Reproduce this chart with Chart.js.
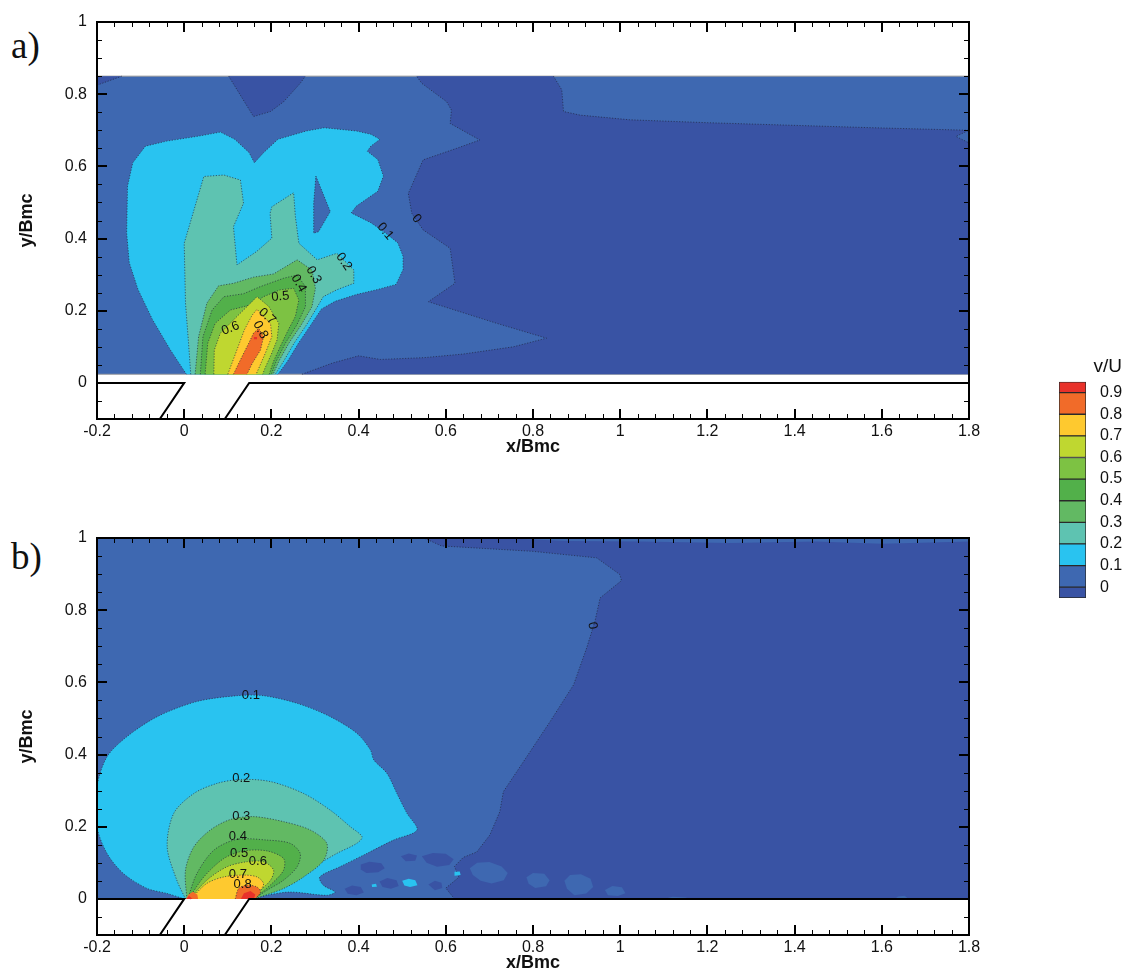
<!DOCTYPE html>
<html>
<head>
<meta charset="utf-8">
<title>v/U contours</title>
<script src="https://cdn.jsdelivr.net/npm/chart.js@4.4.1/dist/chart.umd.min.js"></script>
<style>
  html, body { margin: 0; padding: 0; background: #fff; }
  body { position: relative; width: 1128px; height: 969px; overflow: hidden; }
  canvas { position: absolute; }
  .tag { position: absolute; left: 11px; font: 37px/37px "Liberation Serif", "Times New Roman", serif; color: #111; }
</style>
</head>
<body>
<div class="tag" style="top:27px">a)</div>
<div class="tag" style="top:538px">b)</div>
<canvas id="panelA" width="1000" height="470" style="left:0;top:0"></canvas>
<canvas id="panelB" width="1000" height="470" style="left:0;top:516px"></canvas>
<canvas id="colorbar" width="88" height="257" style="left:1040px;top:341px"></canvas>
<script>
// ---------- contour levels and band colours ----------
const levels = [0, 0.1, 0.2, 0.3, 0.4, 0.5, 0.6, 0.7, 0.8, 0.9];
const levelColors = ['#3e68b1', '#29c3f0', '#5ec3b1', '#62b963', '#52b04a',
                     '#7dc243', '#bfd730', '#fec92f', '#f16b29', '#e8312a'];
const negColor = '#3953a4';          // v/U below 0

// ---------- axes ----------
const xTickValues = [-0.2, 0, 0.2, 0.4, 0.6, 0.8, 1, 1.2, 1.4, 1.6, 1.8];
const xTickLabels = ['-0.2', '0', '0.2', '0.4', '0.6', '0.8', '1', '1.2', '1.4', '1.6', '1.8'];
const yTickValues = [0, 0.2, 0.4, 0.6, 0.8, 1];
const yTickLabels = ['0', '0.2', '0.4', '0.6', '0.8', '1'];

// ---------- channel walls (slot in the lower wall) ----------
const wallLeft  = [[-0.2, 0], [0, 0], [-0.056, -0.1]];
const wallRight = [[1.8, 0], [0.149, 0], [0.093, -0.1]];

// ---------- panel a: measured field, contour regions (x/Bmc, y/Bmc) ----------
const aDomain = [[-0.2, 0.024], [1.8, 0.024], [1.8, 0.85], [-0.2, 0.85]];
const aNegCorner = [[-0.2, 0.85], [-0.143, 0.85], [-0.2, 0.825]];
const aNegTop = [[0.102, 0.85], [0.130, 0.795], [0.159, 0.738], [0.198, 0.752], [0.228, 0.779],
                 [0.266, 0.830], [0.278, 0.85]];
const aNegMain = [[0.533, 0.85], [0.847, 0.85], [0.866, 0.812], [0.870, 0.752], [0.908, 0.742],
                  [1.022, 0.729], [1.2, 0.721], [1.58, 0.707], [1.8, 0.70], [1.77, 0.683], [1.8, 0.665],
                  [1.8, 0.024], [0.27, 0.024], [0.34, 0.055], [0.40, 0.075], [0.45, 0.065], [0.55, 0.07],
                  [0.64, 0.08], [0.755, 0.10], [0.831, 0.124], [0.717, 0.165], [0.560, 0.225],
                  [0.621, 0.276], [0.610, 0.373], [0.548, 0.424], [0.522, 0.470], [0.514, 0.525],
                  [0.548, 0.618], [0.625, 0.650], [0.678, 0.673], [0.610, 0.719], [0.613, 0.756],
                  [0.602, 0.779], [0.545, 0.830]];
const aCyan = [[0.005, 0.024], [-0.032, 0.092], [-0.073, 0.176], [-0.106, 0.259], [-0.126, 0.333],
               [-0.132, 0.416], [-0.130, 0.545], [-0.118, 0.610], [-0.089, 0.656], [-0.040, 0.670],
               [0.034, 0.684], [0.083, 0.695], [0.116, 0.675], [0.149, 0.638], [0.161, 0.610],
               [0.182, 0.638], [0.215, 0.675], [0.280, 0.698], [0.321, 0.707], [0.395, 0.698],
               [0.428, 0.689], [0.449, 0.675], [0.428, 0.656], [0.420, 0.642], [0.444, 0.619],
               [0.457, 0.573], [0.444, 0.531], [0.395, 0.490], [0.383, 0.471], [0.428, 0.444],
               [0.461, 0.416], [0.490, 0.388], [0.502, 0.351], [0.502, 0.314], [0.486, 0.273],
               [0.444, 0.259], [0.395, 0.245], [0.346, 0.226], [0.315, 0.205], [0.290, 0.160],
               [0.262, 0.110], [0.237, 0.060], [0.215, 0.024]];
const aPocket = [[0.302, 0.573], [0.335, 0.475], [0.308, 0.419], [0.297, 0.415], [0.297, 0.498]];
const aTeal = [[0.015, 0.024], [0.010, 0.110], [0.003, 0.221], [0.000, 0.387], [0.018, 0.461],
               [0.045, 0.572], [0.091, 0.576], [0.129, 0.562], [0.136, 0.498], [0.113, 0.433],
               [0.121, 0.327], [0.166, 0.364], [0.201, 0.401], [0.197, 0.470], [0.201, 0.488],
               [0.251, 0.527], [0.255, 0.461], [0.263, 0.387], [0.305, 0.341], [0.350, 0.359],
               [0.389, 0.313], [0.389, 0.276], [0.350, 0.258], [0.319, 0.239], [0.305, 0.210],
               [0.280, 0.160], [0.252, 0.110], [0.228, 0.060], [0.209, 0.024]];
const aL3 = [[0.025, 0.024], [0.033, 0.128], [0.052, 0.221], [0.079, 0.269], [0.113, 0.276],
             [0.159, 0.293], [0.205, 0.302], [0.259, 0.341], [0.293, 0.313], [0.301, 0.262],
             [0.293, 0.211], [0.268, 0.160], [0.240, 0.110], [0.217, 0.060], [0.204, 0.024]];
const aL4 = [[0.037, 0.024], [0.043, 0.128], [0.064, 0.202], [0.091, 0.239], [0.136, 0.247],
             [0.175, 0.267], [0.228, 0.290], [0.259, 0.299], [0.278, 0.267], [0.278, 0.211],
             [0.258, 0.160], [0.232, 0.110], [0.211, 0.060], [0.200, 0.024]];
const aL5 = [[0.048, 0.024], [0.054, 0.110], [0.071, 0.165], [0.106, 0.202], [0.152, 0.216],
             [0.182, 0.239], [0.220, 0.258], [0.251, 0.262], [0.263, 0.230], [0.255, 0.184],
             [0.240, 0.150], [0.222, 0.105], [0.205, 0.060], [0.195, 0.024]];
const aL6 = [[0.068, 0.024], [0.069, 0.091], [0.083, 0.138], [0.121, 0.184], [0.152, 0.221],
             [0.167, 0.239], [0.194, 0.212], [0.217, 0.165], [0.213, 0.119], [0.200, 0.080],
             [0.185, 0.040], [0.180, 0.024]];
const aL7 = [[0.100, 0.024], [0.118, 0.082], [0.138, 0.147], [0.156, 0.188], [0.167, 0.204],
             [0.182, 0.184], [0.198, 0.165], [0.201, 0.128], [0.186, 0.082], [0.165, 0.024]];
const aL8 = [[0.113, 0.024], [0.129, 0.064], [0.148, 0.110], [0.159, 0.138], [0.171, 0.151],
             [0.182, 0.128], [0.175, 0.091], [0.156, 0.054], [0.144, 0.024]];
const aL9 = [[0.160, 0.121], [0.167, 0.121], [0.167, 0.127], [0.160, 0.127]];
// contour labels: [level, x, y, rotation in degrees]
const aLabels = [[0, 0.533, 0.455, 50], [0.1, 0.461, 0.420, 50], [0.2, 0.366, 0.336, 55],
                 [0.3, 0.297, 0.299, 60], [0.4, 0.2625, 0.276, 60], [0.5, 0.2205, 0.239, -5],
                 [0.6, 0.106, 0.151, -22], [0.7, 0.190, 0.184, 42], [0.8, 0.175, 0.147, 62]];

// ---------- panel b: computed field, contour regions ----------
const bDomain = [[-0.2, 0], [1.8, 0], [1.8, 1], [-0.2, 1]];
const bNegMain = [[0.55, 1.0], [1.8, 1.0], [1.8, 0.0], [0.62, 0.0], [0.60, 0.03], [0.63, 0.06],
                  [0.62, 0.09], [0.64, 0.115], [0.671, 0.130], [0.701, 0.177], [0.724, 0.242],
                  [0.732, 0.297], [0.778, 0.380], [0.839, 0.491], [0.893, 0.593], [0.923, 0.695],
                  [0.942, 0.769], [0.954, 0.834], [1.003, 0.882], [0.999, 0.899], [0.946, 0.945],
                  [0.80, 0.963], [0.59, 0.978]];
const bNegSpots = [
  [[0.405, 0.095], [0.425, 0.103], [0.452, 0.099], [0.460, 0.085], [0.445, 0.074], [0.418, 0.072], [0.404, 0.082]],
  [[0.545, 0.118], [0.570, 0.127], [0.600, 0.125], [0.618, 0.110], [0.608, 0.094], [0.580, 0.089], [0.556, 0.100]],
  [[0.497, 0.118], [0.515, 0.126], [0.534, 0.120], [0.530, 0.106], [0.508, 0.104]],
  [[0.368, 0.028], [0.385, 0.037], [0.405, 0.033], [0.412, 0.018], [0.395, 0.010], [0.375, 0.014]],
  [[0.448, 0.048], [0.466, 0.058], [0.487, 0.052], [0.492, 0.036], [0.474, 0.028], [0.455, 0.033]],
  [[0.560, 0.040], [0.575, 0.050], [0.590, 0.045], [0.592, 0.030], [0.575, 0.024]]
];
const bLowSpots = [
  [[0.655, 0.085], [0.672, 0.100], [0.700, 0.102], [0.728, 0.090], [0.742, 0.072], [0.733, 0.052],
   [0.705, 0.043], [0.680, 0.050], [0.662, 0.066]],
  [[0.785, 0.060], [0.800, 0.072], [0.826, 0.070], [0.838, 0.052], [0.830, 0.035], [0.805, 0.030], [0.790, 0.042]],
  [[0.872, 0.050], [0.885, 0.066], [0.910, 0.068], [0.932, 0.056], [0.938, 0.033], [0.922, 0.015],
   [0.895, 0.010], [0.878, 0.028]],
  [[0.965, 0.025], [0.982, 0.036], [1.004, 0.032], [1.012, 0.016], [0.995, 0.008], [0.972, 0.010]],
  [[1.10, 0.0], [1.12, 0.006], [1.15, 0.004], [1.16, 0.0]],
  [[1.63, 0.0], [1.637, 0.007], [1.652, 0.009], [1.662, 0.0]],
  [[0.72, 1.0], [1.8, 1.0], [1.8, 0.99], [1.6, 0.984], [1.45, 0.99], [1.25, 0.986], [1.05, 0.99], [0.88, 0.992]]
];
const bCyan = [[0.0, 0.0], [-0.039, 0.015], [-0.085, 0.029], [-0.139, 0.070], [-0.177, 0.126],
               [-0.2, 0.2], [-0.2, 0.311], [-0.177, 0.394], [-0.131, 0.450], [-0.062, 0.505],
               [0.029, 0.547], [0.121, 0.563], [0.182, 0.563], [0.259, 0.542], [0.335, 0.505],
               [0.396, 0.459], [0.427, 0.413], [0.435, 0.385], [0.465, 0.348], [0.488, 0.292],
               [0.511, 0.237], [0.534, 0.191], [0.480, 0.163], [0.419, 0.126], [0.357, 0.089],
               [0.311, 0.061], [0.319, 0.038], [0.346, 0.019], [0.327, 0.010], [0.243, 0.019],
               [0.189, 0.010], [0.155, 0.0]];
const bCyanSpots = [
  [[0.500, 0.050], [0.515, 0.056], [0.530, 0.052], [0.535, 0.038], [0.518, 0.033], [0.505, 0.037]],
  [[0.620, 0.075], [0.632, 0.076], [0.634, 0.066], [0.621, 0.064]],
  [[0.430, 0.040], [0.440, 0.042], [0.442, 0.034], [0.431, 0.033]]
];
const bTeal = [[0.003, 0.0], [-0.017, 0.052], [-0.039, 0.144], [-0.024, 0.237], [0.022, 0.292],
               [0.075, 0.320], [0.129, 0.331], [0.198, 0.325], [0.274, 0.292], [0.335, 0.246],
               [0.381, 0.200], [0.408, 0.172], [0.396, 0.154], [0.350, 0.126], [0.297, 0.089],
               [0.243, 0.052], [0.198, 0.024], [0.162, 0.0]];
const bL3 = [[0.006, 0.0], [0.003, 0.080], [0.022, 0.144], [0.060, 0.191], [0.106, 0.220],
             [0.159, 0.228], [0.228, 0.214], [0.289, 0.191], [0.327, 0.154], [0.320, 0.107],
             [0.274, 0.061], [0.228, 0.029], [0.161, 0.0]];
const bL4 = [[0.008, 0.0], [0.029, 0.070], [0.068, 0.135], [0.121, 0.165], [0.190, 0.163],
             [0.243, 0.154], [0.266, 0.126], [0.259, 0.089], [0.228, 0.052], [0.190, 0.024], [0.160, 0.0]];
const bL5 = [[0.010, 0.0], [0.045, 0.061], [0.091, 0.112], [0.136, 0.133], [0.190, 0.133],
             [0.228, 0.112], [0.228, 0.080], [0.205, 0.047], [0.175, 0.015], [0.159, 0.0]];
const bL6 = [[0.012, 0.0], [0.052, 0.052], [0.098, 0.089], [0.144, 0.103], [0.182, 0.103],
             [0.205, 0.080], [0.198, 0.052], [0.175, 0.024], [0.158, 0.0]];
const bL7 = [[0.015, 0.0], [0.052, 0.043], [0.091, 0.061], [0.136, 0.066], [0.167, 0.061],
             [0.182, 0.043], [0.175, 0.024], [0.157, 0.0]];
const bL8a = [[0.004, 0.0], [0.010, 0.012], [0.020, 0.020], [0.030, 0.012], [0.032, 0.0]];
const bL8b = [[0.117, 0.0], [0.125, 0.029], [0.144, 0.038], [0.167, 0.033], [0.175, 0.019], [0.163, 0.0]];
const bL9a = [[0.005, 0.0], [0.011, 0.009], [0.019, 0.0]];
const bL9b = [[0.130, 0.0], [0.137, 0.016], [0.152, 0.022], [0.163, 0.012], [0.160, 0.0]];
const bLabels = [[0.1, 0.153, 0.565, 0], [0.2, 0.131, 0.334, 0], [0.3, 0.131, 0.229, 0],
                 [0.4, 0.123, 0.172, 0], [0.5, 0.126, 0.126, 0], [0.6, 0.169, 0.105, 0],
                 [0.7, 0.123, 0.068, 0], [0.8, 0.134, 0.040, 0], [0, 0.936, 0.757, 80]];

// ---------- helpers ----------
const FONT = '"Liberation Sans", Arial, sans-serif';
Chart.defaults.font.family = FONT;
Chart.defaults.color = '#111';
const isoLine = 'rgba(30, 36, 60, 0.65)';
const fmt = v => String(Math.round(v * 10) / 10);
const bandColor = band => band < 0 ? negColor : levelColors[Math.round(band * 10)];
const EPS = 1e-9;

function alongEdge(p, q, dom) {
  return (Math.abs(p.x - q.x) < EPS && (Math.abs(p.x - dom.x0) < EPS || Math.abs(p.x - dom.x1) < EPS)) ||
         (Math.abs(p.y - q.y) < EPS && (Math.abs(p.y - dom.y0) < EPS || Math.abs(p.y - dom.y1) < EPS));
}

function ring(pts, dom) {
  const a = pts[pts.length - 1], b = pts[0];
  const open = alongEdge({x: a[0], y: a[1]}, {x: b[0], y: b[1]}, dom);
  return (open ? pts : pts.concat([pts[0]])).map(([x, y]) => ({x, y}));
}

// one region -> a filled shape plus (optionally) its dotted iso-line
function regionSets(band, pts, dom, opt = {}) {
  const data = ring(pts, dom);
  const tension = opt.smooth ? 0.3 : 0;
  const sets = [{
    data, fill: 'shape', backgroundColor: bandColor(band),
    borderWidth: 0, borderColor: 'rgba(0,0,0,0)', pointRadius: 0, tension
  }];
  if (opt.line !== false) {
    sets.push({
      data, fill: false, borderColor: isoLine, borderWidth: 1, borderDash: [1.2, 1.6],
      pointRadius: 0, tension,
      segment: {borderColor: c => alongEdge(c.p0.parsed, c.p1.parsed, dom) ? 'rgba(0,0,0,0)' : undefined}
    });
  }
  return sets;
}

function wallSets() {
  return [wallLeft, wallRight].map(w => ({
    data: w.map(([x, y]) => ({x, y})), fill: false, borderColor: '#000', borderWidth: 2,
    pointRadius: 0, tension: 0
  }));
}

// frame, inward ticks and contour labels
function panelDecor(labels) {
  return {
    id: 'panelDecor',
    afterDatasetsDraw(chart) {
      const {ctx, chartArea: a, scales: {x, y}} = chart;
      ctx.save();
      ctx.fillStyle = '#111';
      ctx.font = '13px ' + FONT;
      ctx.textAlign = 'center';
      ctx.textBaseline = 'middle';
      for (const [lev, lx, ly, ang] of labels) {
        ctx.save();
        ctx.translate(x.getPixelForValue(lx), y.getPixelForValue(ly));
        ctx.rotate(ang * Math.PI / 180);
        ctx.fillText(fmt(lev), 0, 0);
        ctx.restore();
      }
      ctx.strokeStyle = '#000';
      const mark = (x0, y0, x1, y1, w) => {
        ctx.lineWidth = w; ctx.beginPath(); ctx.moveTo(x0, y0); ctx.lineTo(x1, y1); ctx.stroke();
      };
      for (let k = 0; k <= 50; k++) {
        const major = k % 5 === 0;
        const px = Math.round(x.getPixelForValue(-0.2 + k * 0.04)) + (major ? 0 : 0.5);
        const len = major ? 10 : 5, w = major ? 2 : 1;
        mark(px, a.bottom, px, a.bottom - len, w);
        mark(px, a.top, px, a.top + len, w);
      }
      for (let k = 0; k <= 22; k++) {
        const v = -0.1 + k * 0.05;
        const major = Math.abs(v / 0.2 - Math.round(v / 0.2)) < 1e-6;
        const py = Math.round(y.getPixelForValue(v)) + (major ? 0 : 0.5);
        const len = major ? 10 : 5, w = major ? 2 : 1;
        mark(a.left, py, a.left + len, py, w);
        mark(a.right, py, a.right - len, py, w);
      }
      ctx.lineWidth = 2;
      ctx.strokeRect(a.left, a.top, a.right - a.left, a.bottom - a.top);
      ctx.restore();
    }
  };
}

function panel(canvasId, datasets, labels) {
  datasets.forEach((d, i) => { d.order = datasets.length - i; });
  return new Chart(document.getElementById(canvasId), {
    type: 'line',
    data: {datasets},
    plugins: [panelDecor(labels)],
    options: {
      responsive: false, animation: false, devicePixelRatio: 1, events: [],
      layout: {padding: {top: 22, left: 0, right: 31, bottom: 0}},
      plugins: {legend: {display: false}, tooltip: {enabled: false}},
      scales: {
        x: {
          type: 'linear', min: -0.2, max: 1.8,
          grid: {display: false, drawTicks: false}, border: {display: false},
          afterBuildTicks: s => { s.ticks = xTickValues.map(v => ({value: v})); },
          afterFit: s => { s.height = 51; },
          ticks: {autoSkip: false, maxRotation: 0, padding: 3, color: '#111', font: {size: 16},
                  callback: (v, i) => xTickLabels[i]},
          title: {display: true, text: 'x/Bmc', color: '#111', font: {size: 18, weight: 'bold'},
                  padding: {top: 0, bottom: 12}}
        },
        y: {
          type: 'linear', min: -0.1, max: 1,
          grid: {display: false, drawTicks: false}, border: {display: false},
          afterBuildTicks: s => { s.ticks = yTickValues.map(v => ({value: v})); },
          afterFit: s => { s.width = 97; },
          ticks: {autoSkip: false, padding: 10, color: '#111', font: {size: 16},
                  callback: (v, i) => yTickLabels[i]},
          title: {display: true, text: 'y/Bmc', color: '#111', font: {size: 18, weight: 'bold'},
                  padding: {top: 16, bottom: 0}}
        }
      }
    }
  });
}

// ---------- panel a ----------
const domA = {x0: -0.2, x1: 1.8, y0: 0.024, y1: 0.85};
const setsA = [
  {data: aDomain.concat([aDomain[0]]).map(([x, y]) => ({x, y})), fill: 'shape',
   backgroundColor: levelColors[0], borderColor: 'rgba(150,150,150,0.9)', borderWidth: 1,
   pointRadius: 0, tension: 0},
  ...regionSets(-1, aNegCorner, domA),
  ...regionSets(-1, aNegTop, domA),
  ...regionSets(-1, aNegMain, domA),
  ...regionSets(0.1, aCyan, domA),
  ...regionSets(0, aPocket, domA),
  ...regionSets(0.2, aTeal, domA),
  ...regionSets(0.3, aL3, domA),
  ...regionSets(0.4, aL4, domA),
  ...regionSets(0.5, aL5, domA),
  ...regionSets(0.6, aL6, domA),
  ...regionSets(0.7, aL7, domA),
  ...regionSets(0.8, aL8, domA),
  ...regionSets(0.9, aL9, domA, {line: false}),
  ...wallSets()
];
panel('panelA', setsA, aLabels);

// ---------- panel b ----------
const domB = {x0: -0.2, x1: 1.8, y0: 0, y1: 1};
const setsB = [
  ...regionSets(0, bDomain, domB, {line: false}),
  ...regionSets(-1, bNegMain, domB),
  ...bNegSpots.flatMap(p => regionSets(-1, p, domB, {line: false})),
  ...bLowSpots.flatMap(p => regionSets(0, p, domB, {line: false})),
  ...regionSets(0.1, bCyan, domB, {smooth: true}),
  ...bCyanSpots.flatMap(p => regionSets(0.1, p, domB, {line: false})),
  ...regionSets(0.2, bTeal, domB, {smooth: true}),
  ...regionSets(0.3, bL3, domB, {smooth: true}),
  ...regionSets(0.4, bL4, domB, {smooth: true}),
  ...regionSets(0.5, bL5, domB, {smooth: true}),
  ...regionSets(0.6, bL6, domB, {smooth: true}),
  ...regionSets(0.7, bL7, domB, {smooth: true}),
  ...regionSets(0.8, bL8a, domB, {line: false}),
  ...regionSets(0.8, bL8b, domB, {smooth: true}),
  ...regionSets(0.9, bL9a, domB, {line: false}),
  ...regionSets(0.9, bL9b, domB, {line: false}),
  ...wallSets()
];
panel('panelB', setsB, bLabels);

// ---------- colour bar ----------
const barBands = [[-0.05, 0, negColor]].concat(
  levels.map((v, i) => [v, i + 1 < levels.length ? levels[i + 1] : 0.95, levelColors[i]]));
new Chart(document.getElementById('colorbar'), {
  type: 'bar',
  data: {
    labels: ['v/U'],
    datasets: barBands.map(([lo, hi, c]) => ({
      data: [[lo, hi]], backgroundColor: c, borderColor: '#2a2a2a', borderWidth: 1,
      borderSkipped: false, grouped: false, barPercentage: 1, categoryPercentage: 1
    }))
  },
  options: {
    responsive: false, animation: false, devicePixelRatio: 1, events: [],
    layout: {padding: {left: 19, right: 6, top: 0, bottom: 0}},
    plugins: {
      legend: {display: false}, tooltip: {enabled: false},
      title: {display: true, text: 'v/U', align: 'end', color: '#111',
              font: {size: 19, weight: 'normal'}, padding: {top: 14, bottom: 4}}
    },
    scales: {
      x: {display: false},
      y: {
        position: 'right', min: -0.05, max: 0.95,
        grid: {display: false, drawTicks: false}, border: {display: false},
        afterBuildTicks: s => { s.ticks = levels.map(v => ({value: v})); },
        afterFit: s => { s.width = 36; s.paddingTop = 0; s.paddingBottom = 0; },
        ticks: {padding: 14, color: '#111', font: {size: 16}, callback: (v, i) => fmt(levels[i])}
      }
    }
  }
});
</script>
</body>
</html>
